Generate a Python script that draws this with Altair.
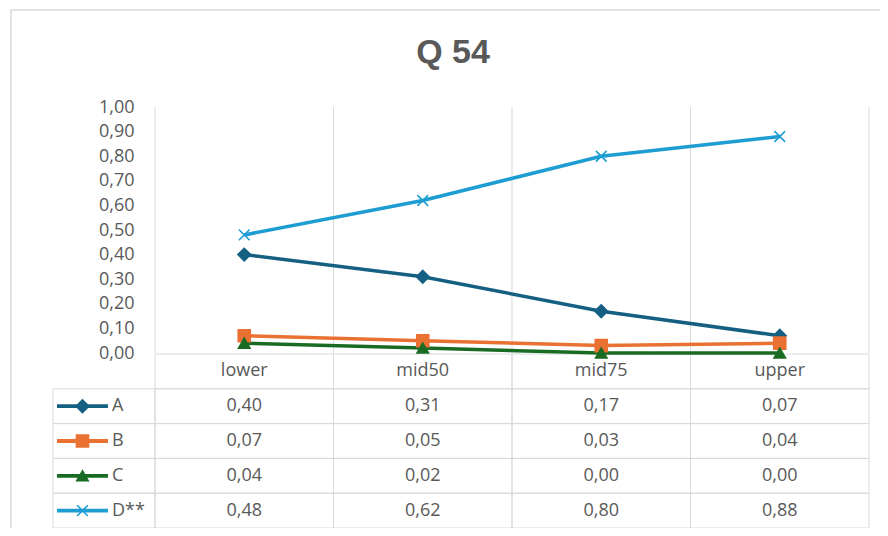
import altair as alt
import pandas as pd

# ---------------- data ----------------
categories = ["lower", "mid50", "mid75", "upper"]
series_names = ["A", "B", "C", "D**"]
A = [0.40, 0.31, 0.17, 0.07]
B = [0.07, 0.05, 0.03, 0.04]
C = [0.04, 0.02, 0.00, 0.00]
D = [0.48, 0.62, 0.80, 0.88]
title_text = "Q 54"
y_ticks = [0.0, 0.1, 0.2, 0.3, 0.4, 0.5, 0.6, 0.7, 0.8, 0.9, 1.0]
colors = ["#156082", "#E97132", "#196B24", "#1E9DD3"]

# ---------------- tables built from the arrays ----------------
rows = []
for s, vals in zip(series_names, [A, B, C, D]):
    for c, v in zip(categories, vals):
        rows.append({"series": s, "cat": c, "value": v})
long = pd.DataFrame(rows)
cat_df = pd.DataFrame({"cat": categories})
table_rows = ["hdr"] + series_names
cells = pd.DataFrame([{"cat": c, "row": r} for r in table_rows for c in categories])
keys = pd.DataFrame({"series": series_names, "col": ["key"] * len(series_names)})
one = pd.DataFrame({"k": [0]})

# ---------------- styling ----------------
GRID = "#D9D9D9"
TXT = "#595959"
FONT = "Open Sans"
FS = 18

xs = alt.Scale(type="band", domain=categories, range=[147, 861], paddingInner=0, paddingOuter=0)
ys = alt.Scale(type="linear", domain=[0, 1], range=[345, 99], nice=False, zero=False)
rs = alt.Scale(type="band", domain=table_rows, range=[346, 520], paddingInner=0, paddingOuter=0)
ks = alt.Scale(type="band", domain=["key"], range=[45, 147], paddingInner=0, paddingOuter=0)
cs = alt.Scale(domain=series_names, range=colors)
ss = alt.Scale(domain=series_names,
               range=["diamond", "square", "triangle-up", "M-1,-1L1,1M-1,1L1,-1"])
szs = alt.Scale(domain=series_names, range=[160, 115, 135, 160])

yaxis = alt.Axis(values=y_ticks,
                 labelExpr="replace(format(datum.value, '.2f'), '.', ',')",
                 domain=False, ticks=False, grid=False, title=None,
                 offset=-147, labelPadding=21, labelFontSize=FS,
                 labelColor=TXT, labelFont=FONT)

border = alt.Chart(one).mark_rect(filled=False, stroke=GRID, strokeWidth=1.5).encode(
    x=alt.value(3), x2=alt.value(1000), y=alt.value(2), y2=alt.value(1000))

grid = alt.Chart(cat_df).mark_rule(color=GRID, strokeWidth=1).encode(
    x=alt.X("cat:N", scale=xs, bandPosition=0, axis=None),
    y=alt.YDatum(0, scale=ys, axis=None),
    y2=alt.Y2Datum(1))
grid_end = alt.Chart(cat_df).transform_filter(
    alt.datum.cat == categories[-1]).mark_rule(color=GRID, strokeWidth=1).encode(
    x=alt.X("cat:N", scale=xs, bandPosition=1, axis=None),
    y=alt.YDatum(0, scale=ys, axis=None),
    y2=alt.Y2Datum(1))

table_cells = alt.Chart(cells).mark_rect(filled=False, stroke=GRID, strokeWidth=1).encode(
    x=alt.X("cat:N", scale=xs, axis=None),
    y=alt.Y("row:N", scale=rs, axis=None))
key_cells = alt.Chart(keys).mark_rect(filled=False, stroke=GRID, strokeWidth=1).encode(
    x=alt.X("col:N", scale=ks, axis=None),
    y=alt.Y("series:N", scale=rs, axis=None))

lines = alt.Chart(long).mark_line(strokeWidth=3.5).encode(
    x=alt.X("cat:N", scale=xs, axis=None),
    y=alt.Y("value:Q", scale=ys, axis=yaxis),
    color=alt.Color("series:N", scale=cs, legend=None))

points = alt.Chart(long).mark_point(filled=True, opacity=1, strokeWidth=1.6).encode(
    x=alt.X("cat:N", scale=xs, axis=None),
    y=alt.Y("value:Q", scale=ys, axis=None),
    color=alt.Color("series:N", scale=cs, legend=None),
    stroke=alt.Stroke("series:N", scale=cs, legend=None),
    shape=alt.Shape("series:N", scale=ss, legend=None),
    size=alt.Size("series:N", scale=szs, legend=None))

header_text = alt.Chart(cat_df).transform_calculate(row="'hdr'").mark_text(
    font=FONT, fontSize=FS, color=TXT, baseline="middle").encode(
    x=alt.X("cat:N", scale=xs, axis=None),
    y=alt.Y("row:N", scale=rs, axis=None),
    text="cat:N")

value_text = alt.Chart(long).transform_calculate(
    label="replace(format(datum.value, '.2f'), '.', ',')").mark_text(
    font=FONT, fontSize=FS, color=TXT, baseline="middle").encode(
    x=alt.X("cat:N", scale=xs, axis=None),
    y=alt.Y("series:N", scale=rs, axis=None),
    text="label:N")

key_bar = alt.Chart(keys).mark_point(filled=True, opacity=1, size=2601,
                                     shape="M-1,-0.075L1,-0.075L1,0.075L-1,0.075Z").encode(
    x=alt.X("col:N", scale=ks, bandPosition=0.289, axis=None),
    y=alt.Y("series:N", scale=rs, axis=None),
    color=alt.Color("series:N", scale=cs, legend=None))

key_mark = alt.Chart(keys).mark_point(filled=True, opacity=1, strokeWidth=1.6).encode(
    x=alt.X("col:N", scale=ks, bandPosition=0.289, axis=None),
    y=alt.Y("series:N", scale=rs, axis=None),
    color=alt.Color("series:N", scale=cs, legend=None),
    stroke=alt.Stroke("series:N", scale=cs, legend=None),
    shape=alt.Shape("series:N", scale=ss, legend=None),
    size=alt.Size("series:N", scale=szs, legend=None))

key_label = alt.Chart(keys).mark_text(font=FONT, fontSize=FS, color=TXT,
                                      align="left", baseline="middle").encode(
    x=alt.X("col:N", scale=ks, bandPosition=0.578, axis=None),
    y=alt.Y("series:N", scale=rs, axis=None),
    text="series:N")

chart = alt.layer(
    border, grid, grid_end, table_cells, key_cells,
    lines, points, header_text, value_text, key_bar, key_mark, key_label
).resolve_scale(
    x="independent", y="independent", color="shared", shape="shared", size="shared", stroke="shared"
).properties(
    width=872, height=520,
    autosize=alt.AutoSizeParams(type="none"),
    padding=0,
    background="white",
    title=alt.Title(title_text, fontSize=34, fontWeight="bold", color=TXT,
                    font="Liberation Sans", anchor="middle", offset=-62, dx=9),
).configure_view(stroke=None)

chart.save("out.html", embed_options={"renderer": "svg", "actions": False})
